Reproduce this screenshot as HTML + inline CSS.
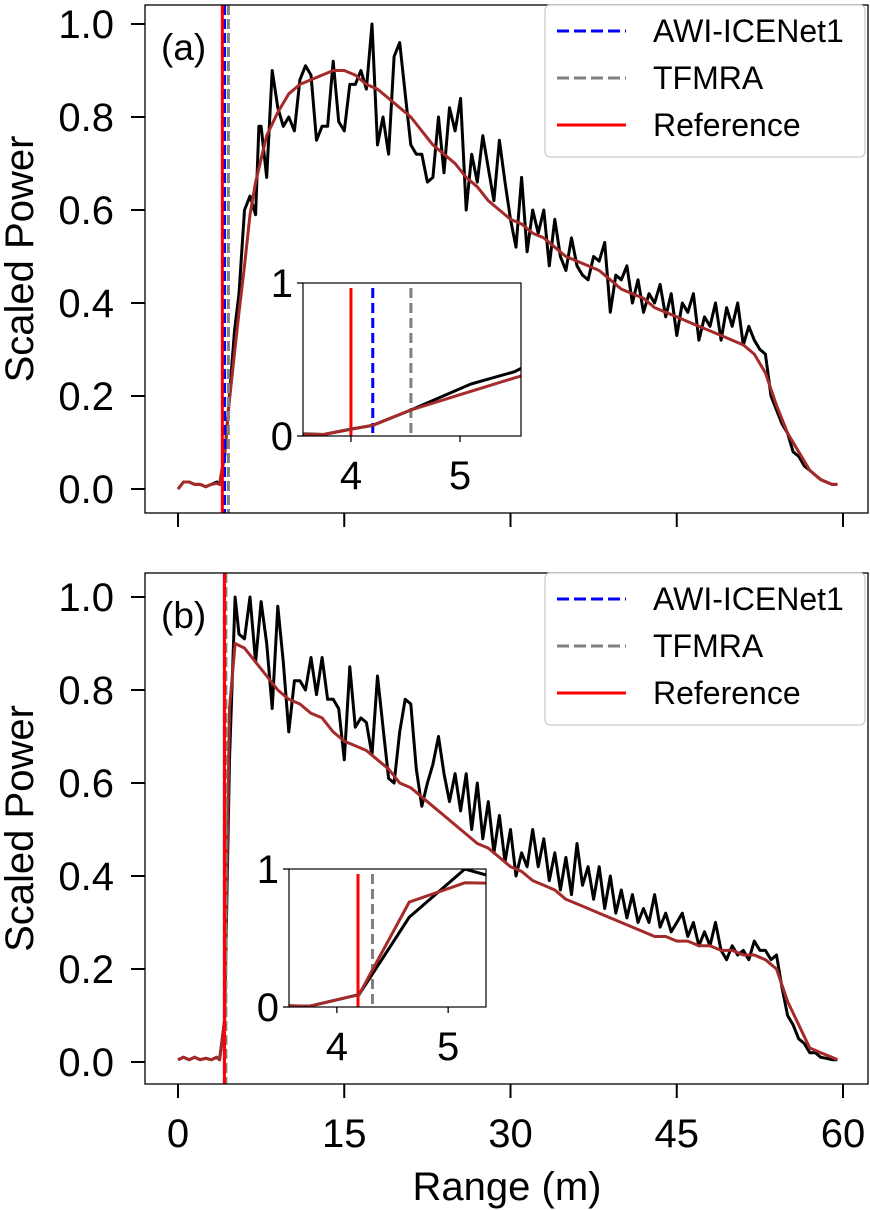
<!DOCTYPE html>
<html><head><meta charset="utf-8"><style>
body{margin:0;background:#fff;}
svg{display:block;font-family:"Liberation Sans",sans-serif;}
</style></head><body>
<svg id="c" width="870" height="1210" viewBox="0 0 870 1210"></svg>
<script>
// ---- data ----
const xA = [0,0.5,1,1.5,2,2.5,3,3.5,3.75,4,4.2,4.55,5.1,5.5,6,6.5,7,7.3,7.5,8,8.5,9,9.5,10,10.5,11,11.5,12,12.5,13,13.5,14,14.5,15,15.5,16,16.5,17,17.5,18,18.5,19,19.5,20,20.5,21,21.5,22,22.5,23,23.5,24,24.5,25,25.5,26,26.5,27,27.5,28,28.5,29,29.5,30,30.5,31,31.5,32,32.5,33,33.5,34,34.5,35,35.5,36,36.5,37,37.5,38,38.5,39,39.5,40,40.5,41,41.5,42,42.5,43,43.5,44,44.5,45,45.5,46,46.5,47,47.5,48,48.5,49,49.5,50,50.5,51,51.5,52,52.5,53,53.5,54,54.5,55,55.5,56,56.5,57,57.5,58,58.5,59,59.5];
const blackA = [0,0.015,0.015,0.01,0.01,0.005,0.01,0.015,0.01,0.045,0.07,0.17,0.34,0.42,0.6,0.63,0.59,0.78,0.78,0.67,0.9,0.82,0.78,0.8,0.77,0.88,0.91,0.89,0.75,0.78,0.78,0.92,0.79,0.77,0.87,0.87,0.9,0.86,1.0,0.74,0.8,0.72,0.93,0.96,0.85,0.74,0.72,0.72,0.66,0.67,0.8,0.68,0.82,0.77,0.84,0.6,0.72,0.66,0.76,0.69,0.62,0.75,0.66,0.58,0.52,0.67,0.51,0.6,0.55,0.6,0.48,0.58,0.5,0.47,0.54,0.48,0.46,0.45,0.5,0.49,0.53,0.38,0.46,0.45,0.48,0.4,0.45,0.38,0.42,0.4,0.44,0.37,0.42,0.33,0.4,0.38,0.42,0.32,0.37,0.35,0.4,0.32,0.39,0.35,0.4,0.31,0.35,0.32,0.3,0.29,0.2,0.17,0.14,0.12,0.08,0.07,0.05,0.04,0.03,0.02,0.015,0.01,0.01];
const xRedA = [0,0.5,1,1.5,2,2.5,3,3.5,3.75,4,4.2,4.55,5,5.5,6,6.5,7,8,9,10,11,12,13,14,15,16,17,18,19,20,21,22,23,24,25,26,27,28,29,30,31,32,33,34,35,36,37,38,39,40,41,42,43,44,45,46,47,48,49,50,51,52,53,54,55,56,57,58,59,59.5];
const redA = [0,0.015,0.015,0.01,0.01,0.005,0.01,0.012,0.01,0.045,0.07,0.17,0.27,0.38,0.48,0.59,0.66,0.76,0.81,0.85,0.87,0.88,0.89,0.9,0.9,0.89,0.87,0.86,0.84,0.82,0.8,0.77,0.74,0.72,0.7,0.67,0.65,0.62,0.6,0.58,0.57,0.55,0.54,0.52,0.5,0.49,0.48,0.47,0.45,0.43,0.42,0.41,0.39,0.38,0.37,0.36,0.35,0.34,0.33,0.32,0.31,0.29,0.25,0.18,0.12,0.08,0.04,0.02,0.01,0.01];
const xB = [0,0.5,1,1.5,2,2.5,3,3.5,3.75,4.2,4.65,5.15,5.5,6,6.5,7,7.5,8,8.5,9,9.5,10,10.5,11,11.5,12,12.5,13,13.5,14,14.5,15,15.5,16,16.5,17,17.5,18,18.5,19,19.5,20,20.5,21,21.5,22,22.5,23,23.5,24,24.5,25,25.5,26,26.5,27,27.5,28,28.5,29,29.5,30,30.5,31,31.5,32,32.5,33,33.5,34,34.5,35,35.5,36,36.5,37,37.5,38,38.5,39,39.5,40,40.5,41,41.5,42,42.5,43,43.5,44,44.5,45,45.5,46,46.5,47,47.5,48,48.5,49,49.5,50,50.5,51,51.5,52,52.5,53,53.5,54,54.5,55,55.5,56,56.5,57,57.5,58,58.5,59,59.5];
const blackB = [0.005,0.01,0.005,0.01,0.005,0.008,0.005,0.01,0.005,0.09,0.65,1.0,0.92,0.91,1.0,0.86,0.99,0.9,0.76,0.98,0.86,0.71,0.82,0.82,0.8,0.87,0.79,0.87,0.78,0.78,0.76,0.65,0.85,0.72,0.74,0.73,0.66,0.83,0.72,0.61,0.6,0.71,0.78,0.77,0.63,0.55,0.6,0.64,0.7,0.62,0.56,0.62,0.54,0.62,0.5,0.6,0.48,0.56,0.45,0.53,0.43,0.5,0.4,0.45,0.42,0.5,0.42,0.48,0.39,0.45,0.37,0.44,0.36,0.47,0.38,0.42,0.35,0.42,0.33,0.4,0.32,0.37,0.31,0.36,0.3,0.33,0.3,0.36,0.29,0.32,0.28,0.3,0.32,0.27,0.3,0.25,0.28,0.25,0.3,0.24,0.22,0.25,0.23,0.24,0.22,0.26,0.24,0.24,0.22,0.23,0.16,0.1,0.08,0.05,0.04,0.02,0.02,0.01,0.008,0.005,0.005];
const xRedB = [0,0.5,1,1.5,2,2.5,3,3.5,3.75,4.2,4.65,5.15,6,7,8,9,10,11,12,13,14,15,16,17,18,19,20,21,22,23,24,25,26,27,28,29,30,31,32,33,34,35,36,37,38,39,40,41,42,43,44,45,46,47,48,49,50,51,52,53,54,55,56,57,58,59,59.5];
const redB = [0.005,0.01,0.005,0.01,0.005,0.008,0.005,0.01,0.005,0.09,0.76,0.9,0.89,0.86,0.83,0.8,0.78,0.77,0.75,0.74,0.71,0.69,0.68,0.67,0.65,0.63,0.6,0.59,0.57,0.55,0.53,0.51,0.49,0.47,0.46,0.44,0.42,0.41,0.39,0.38,0.37,0.35,0.34,0.33,0.32,0.31,0.3,0.29,0.28,0.27,0.27,0.26,0.26,0.25,0.25,0.24,0.24,0.23,0.23,0.22,0.2,0.13,0.08,0.03,0.02,0.01,0.005];
const picksA = [4.2, 4.55, 4.0]; // AWI, TFMRA, Reference
const picksB = [4.19, 4.32, 4.19];
const xTicks = [0,15,30,45,60];
const yTicks = [0,0.2,0.4,0.6,0.8,1.0];
const yTickLabels = ["0.0","0.2","0.4","0.6","0.8","1.0"];
const legendLabels = ["AWI-ICENet1","TFMRA","Reference"];

const svg = document.getElementById('c');
const NS = 'http://www.w3.org/2000/svg';
function mk(tag, attrs, parent){const e=document.createElementNS(NS,tag);for(const k in attrs)e.setAttribute(k,attrs[k]);(parent||svg).appendChild(e);return e;}
function pts(xs, ys, sx, sy){return xs.map((x,i)=>sx(x).toFixed(1)+','+sy(ys[i]).toFixed(1)).join(' ');}
const FS=40;

function panel(cfg){
  const g = mk('g',{});
  
  
  const L=145,R=868,T=cfg.top,B=cfg.bottom;
  const sx = v => 178 + v*(843-178)/60;
  const sy = v => cfg.y0 - v*(cfg.y0-cfg.y1);
  const cp = mk('clipPath',{id:'clip'+cfg.id},g); mk('rect',{x:L,y:T,width:R-L,height:B-T},cp);
  const plot = mk('g',{'clip-path':'url(#clip'+cfg.id+')'},g);
  const bl = mk('polyline',{points:pts(cfg.xb,cfg.yb,sx,sy),fill:'none',stroke:'#000','stroke-width':3,'stroke-linejoin':'round'},plot);
  
  
  const rl = mk('polyline',{points:pts(cfg.xr,cfg.yr,sx,sy),fill:'none',stroke:'#a52a2a','stroke-width':3,'stroke-linejoin':'round'},plot);
  
  
  const cols=['#0000ff','#808080','#ff0000'];
  [0,1,2].forEach(i=>{
    const vl = mk('line',{x1:sx(cfg.picks[i]),x2:sx(cfg.picks[i]),y1:T,y2:B,stroke:cols[i],'stroke-width':3,'stroke-dasharray':i<2?'10,4':'none'},plot);
    
    
  });
  if(cfg.redOnTopDashed){
    const d = mk('line',{x1:sx(cfg.picks[2]),x2:sx(cfg.picks[2]),y1:T,y2:B,stroke:'#ff0000','stroke-width':3,'stroke-dasharray':'6,5'},plot);
    
    
  }
  const fr = mk('rect',{x:L,y:T,width:R-L,height:B-T,fill:'none',stroke:'#000','stroke-width':1.3},g);
  
  
  xTicks.forEach(v=>{
    mk('line',{x1:sx(v),x2:sx(v),y1:B,y2:B+14,stroke:'#000','stroke-width':2},g);
    if(cfg.xlabels){const t=mk('text',{x:sx(v),y:B+63,'text-anchor':'middle','font-size':FS},g);t.textContent=v;
      }
  });
  yTicks.forEach((v,i)=>{
    mk('line',{x1:L-14,x2:L,y1:sy(v),y2:sy(v),stroke:'#000','stroke-width':2},g);
    const t=mk('text',{x:L-31,y:sy(v)+14,'text-anchor':'end','font-size':FS},g);t.textContent=yTickLabels[i];
    
  });
  const yl = mk('text',{x:0,y:0,'text-anchor':'middle','font-size':FS,transform:`translate(33,${(T+B)/2}) rotate(-90)`},g);
  yl.textContent='Scaled Power';
  
  const pl = mk('text',{x:161,y:T+55,'font-size':37},g); pl.textContent=cfg.label;
  
  // legend
  const lg = mk('g',{},g);
  
  mk('rect',{x:545,y:T,width:320,height:152,rx:5,fill:'#fff',stroke:'#ccc','stroke-width':1.3},lg);
  [0,1,2].forEach(i=>{
    const yy=T+26+i*47;
    mk('line',{x1:557,x2:626,y1:yy,y2:yy,stroke:cols[i],'stroke-width':3,'stroke-dasharray':i<2?'12,5':'none'},lg);
    const t=mk('text',{x:653,y:yy+11,'font-size':32},lg);t.textContent=legendLabels[i];
    
  });
  // inset
  const I=cfg.inset;
  const ix = v => I.l + (v-I.xmin)*(I.r-I.l)/(I.xmax-I.xmin);
  const iy = v => I.b - v*(I.b-I.t);
  const ig = mk('g',{},g);
  
  mk('rect',{x:I.l,y:I.t,width:I.r-I.l,height:I.b-I.t,fill:'#fff'},ig);
  const icp = mk('clipPath',{id:'iclip'+cfg.id},ig); mk('rect',{x:I.l,y:I.t,width:I.r-I.l,height:I.b-I.t},icp);
  const ip = mk('g',{'clip-path':'url(#iclip'+cfg.id+')'},ig);
  [0,1,2].forEach(i=>{
    mk('line',{x1:ix(cfg.picks[i]),x2:ix(cfg.picks[i]),y1:I.t+5,y2:I.b,stroke:cols[i],'stroke-width':3,'stroke-dasharray':i<2?'10,5':'none'},ip);
  });
  mk('polyline',{points:pts(cfg.xb,cfg.yb,ix,iy),fill:'none',stroke:'#000','stroke-width':3},ip);
  mk('polyline',{points:pts(cfg.xr,cfg.yr,ix,iy),fill:'none',stroke:'#a52a2a','stroke-width':3},ip);
  mk('rect',{x:I.l,y:I.t,width:I.r-I.l,height:I.b-I.t,fill:'none',stroke:'#000','stroke-width':1.2},ig);
  [4,5].forEach(v=>{
    mk('line',{x1:ix(v),x2:ix(v),y1:I.b,y2:I.b+6,stroke:'#000','stroke-width':1.3},ig);
    const t=mk('text',{x:ix(v),y:I.b+53,'text-anchor':'middle','font-size':FS},ig);t.textContent=v;
  });
  [0,1].forEach(v=>{
    mk('line',{x1:I.l-6,x2:I.l,y1:iy(v),y2:iy(v),stroke:'#000','stroke-width':1.3},ig);
    const t=mk('text',{x:I.l-10,y:iy(v)+14,'text-anchor':'end','font-size':FS},ig);t.textContent=v;
  });
}

panel({id:'a',name:'panel-a',top:5,bottom:513,y0:489,y1:24,xb:xA,yb:blackA,xr:xRedA,yr:redA,picks:picksA,label:'(a)',xlabels:false,
  inset:{l:303,r:521,t:283,b:436,xmin:3.56,xmax:5.56}});
panel({id:'b',name:'panel-b',top:573,bottom:1084,y0:1062,y1:597,xb:xB,yb:blackB,xr:xRedB,yr:redB,picks:picksB,label:'(b)',xlabels:true,redOnTopDashed:true,
  inset:{l:289,r:486,t:869,b:1007,xmin:3.57,xmax:5.34}});

const xl = mk('text',{x:507,y:1200,'text-anchor':'middle','font-size':FS});
xl.textContent='Range (m)';


</script>
</body></html>
